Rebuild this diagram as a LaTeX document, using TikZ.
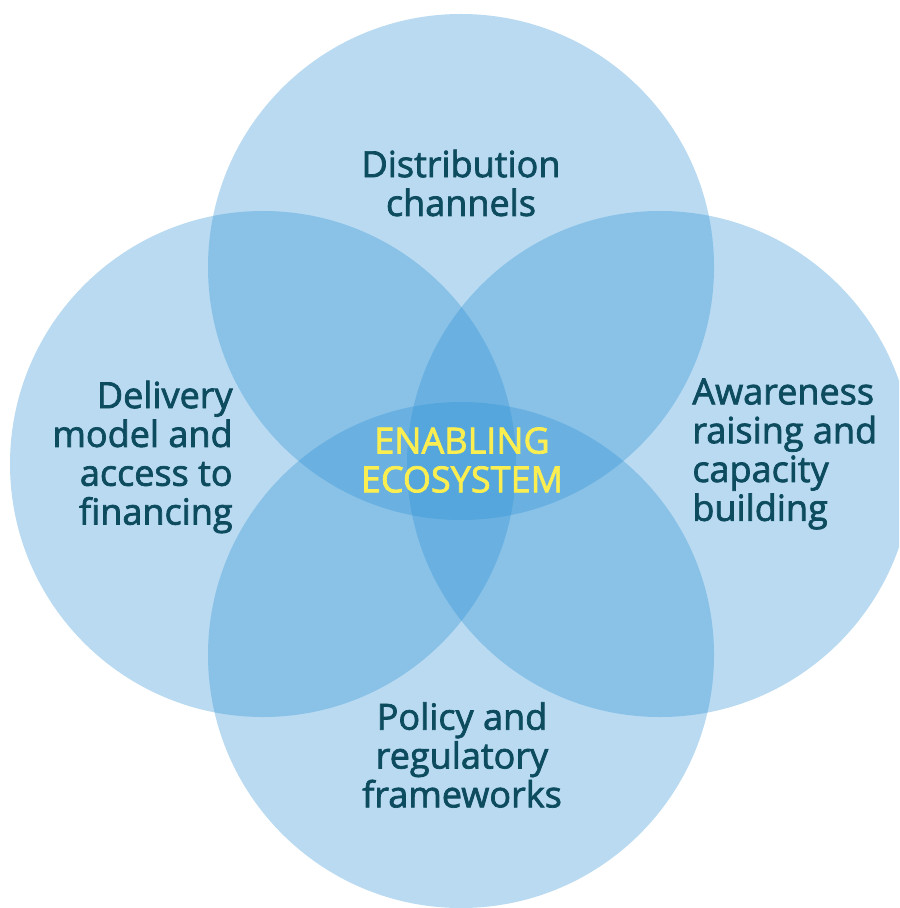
\documentclass[tikz,border=0pt]{standalone}
\usepackage{fontspec}
\setmainfont{Open Sans}
\newfontfamily\ringfont{Open Sans}[FakeBold=2]
\usepackage{xcolor}
\definecolor{ringblue}{RGB}{42,143,212}
\definecolor{labelteal}{RGB}{13,75,95}
\definecolor{hubyellow}{RGB}{250,238,80}

\begin{document}
\begin{tikzpicture}[x=0.02cm,y=-0.02cm]
	\tikzstyle{ring} = [fill=ringblue, fill opacity=0.33, draw=none]
	\tikzstyle{label} = [inner sep=0pt, text=labelteal, font=\ringfont\fontsize{20.5}{22.1}\selectfont]
	\tikzstyle{hub} = [inner sep=0pt, text=hubyellow, align=center, font=\ringfont\fontsize{20.5}{22.1}\selectfont]
  \useasboundingbox (0,0) rectangle (899,908);
  \clip (0,0) rectangle (899,908);
  % the four circles
  \fill[ring] (461,267) circle (253);
  \fill[ring] (263,464) circle (253);
  \fill[ring] (660,464) circle (253);
  \fill[ring] (461,655) circle (253);

  \node(distribution)[label, align=center] at (461,183) {Distribution\\channels};
  \node(delivery)[label, align=right, anchor=east] at (233,457) {Delivery\\model and\\access to\\financing};
  \node(awareness)[label, align=left, anchor=west] at (692,454) {Awareness\\raising and\\capacity\\building};
  \node(policy)[label, align=center] at (462,755) {Policy and\\regulatory\\frameworks};
  \node(ecosystem)[hub] at (462,460) {ENABLING\\ECOSYSTEM};
\end{tikzpicture}
\end{document}
